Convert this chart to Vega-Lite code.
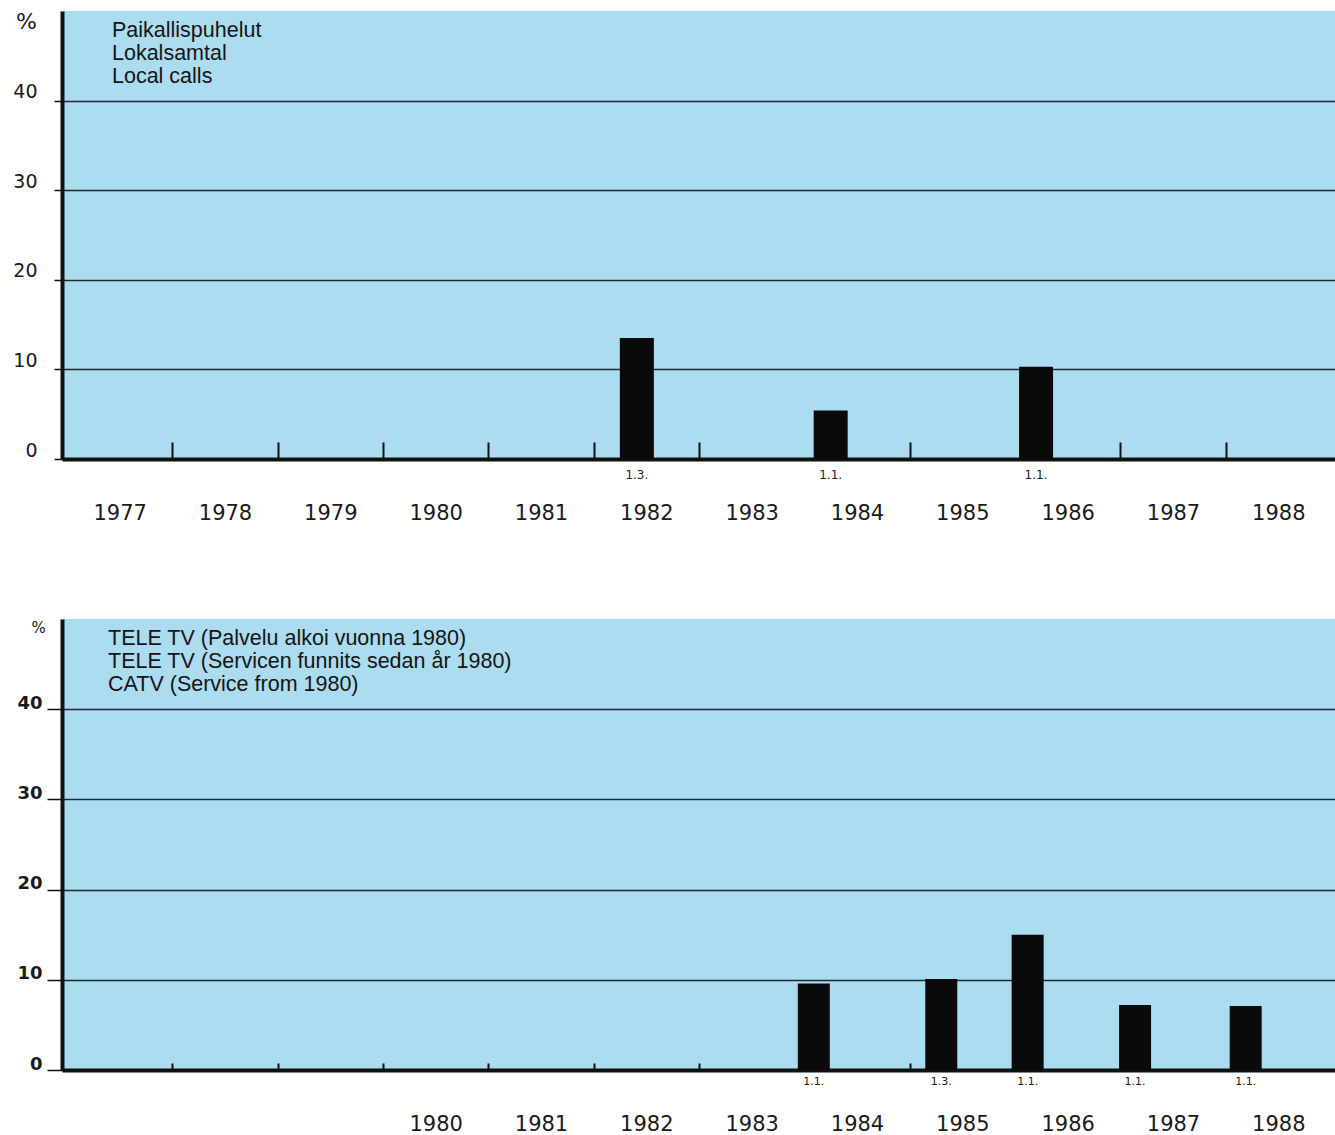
{
  "$schema": "https://vega.github.io/schema/vega-lite/v6.json",
  "padding": {"left": 0, "top": 10, "right": 0, "bottom": 0},
  "background": "white",
  "spacing": 85,
  "config": {
    "view": {"fill": "#abdcef", "stroke": null},
    "font": "Liberation Sans",
    "axis": {"domainColor": "#111111", "tickColor": "#111111", "labelColor": "#1a1a1a", "titleColor": "#1a1a1a", "gridColor": "#1d2b33", "labelFont": "DejaVu Sans", "titleFont": "DejaVu Sans"}
  },
  "datasets": {
    "local": [
      {"t": 1982.41, "pct": 13.5, "date": "1.3."},
      {"t": 1984.25, "pct": 5.4, "date": "1.1."},
      {"t": 1986.2, "pct": 10.3, "date": "1.1."}
    ],
    "catv": [
      {"t": 1984.09, "pct": 9.6, "date": "1.1."},
      {"t": 1985.3, "pct": 10.1, "date": "1.3."},
      {"t": 1986.12, "pct": 15.0, "date": "1.1."},
      {"t": 1987.14, "pct": 7.2, "date": "1.1."},
      {"t": 1988.19, "pct": 7.1, "date": "1.1."}
    ]
  },
  "vconcat": [
    {
      "width": 1274,
      "height": 448,
      "layer": [
        {
          "data": {"name": "local"},
          "mark": {"type": "bar", "orient": "vertical", "color": "#0a0a0a", "width": 34},
          "encoding": {
            "x": {"field": "t", "type": "quantitative",
              "scale": {"domain": [1977, 1989], "nice": false, "zero": false},
              "axis": {"title": null, "grid": false,
                "values": [1977.5, 1978, 1978.5, 1979, 1979.5, 1980, 1980.5, 1981, 1981.5, 1982, 1982.5, 1983, 1983.5, 1984.5, 1985, 1985.5, 1986.5, 1987, 1987.5, 1988, 1988.5],
                "labelExpr": "datum.value % 1 != 0 ? toString(floor(datum.value)) : ''",
                "tickOpacity": {"condition": {"test": "datum.value % 1 != 0", "value": 0}, "value": 1},
                "tickSize": -17, "tickWidth": 2, "domainWidth": 4,
                "labelPadding": 71, "labelFontSize": 21, "labelBaseline": "middle", "labelAngle": 0,
                "labelOverlap": false, "labelFlush": false,
                "minExtent": 75, "maxExtent": 75}},
            "y": {"field": "pct", "type": "quantitative",
              "scale": {"domain": [0, 50], "nice": false},
              "axis": {"values": [0, 10, 20, 30, 40], "grid": true, "gridWidth": 1.5,
                "domainWidth": 4, "tickSize": 8, "tickWidth": 1.5, "labelPadding": 17,
                "labelFontSize": 19, "labelBaseline": "alphabetic", "labelOffset": -3,
                "title": "%", "titleAngle": 0, "titleX": -36, "titleY": 10, "titleAlign": "center",
                "titleBaseline": "middle", "titleFontSize": 22, "titleFontWeight": "normal",
                "minExtent": 62, "maxExtent": 62}}
          }
        },
        {
          "data": {"name": "local"},
          "mark": {"type": "text", "fontSize": 12, "dy": 16, "baseline": "middle", "align": "center", "color": "#1a1a1a", "font": "DejaVu Sans"},
          "encoding": {
            "x": {"field": "t", "type": "quantitative"},
            "y": {"datum": 0, "type": "quantitative"},
            "text": {"field": "date"}
          }
        },
        {
          "data": {"values": [{}]},
          "mark": {"type": "text", "text": ["Paikallispuhelut", "Lokalsamtal", "Local calls"], "fontSize": 21.5, "lineHeight": 23, "align": "left", "baseline": "top", "dx": 45, "dy": 9, "color": "#151515"},
          "encoding": {
            "x": {"datum": 1977, "type": "quantitative"},
            "y": {"datum": 50, "type": "quantitative"}
          }
        }
      ]
    },
    {
      "width": 1274,
      "height": 451,
      "layer": [
        {
          "data": {"name": "catv"},
          "mark": {"type": "bar", "orient": "vertical", "color": "#0a0a0a", "width": 32},
          "encoding": {
            "x": {"field": "t", "type": "quantitative",
              "scale": {"domain": [1977, 1989], "nice": false, "zero": false},
              "axis": {"title": null, "grid": false,
                "values": [1978, 1979, 1980, 1980.5, 1981, 1981.5, 1982, 1982.5, 1983, 1983.5, 1984.5, 1985, 1985.5, 1986.5, 1987.5, 1988.5],
                "labelExpr": "datum.value % 1 != 0 ? toString(floor(datum.value)) : ''",
                "tickOpacity": {"condition": {"test": "datum.value % 1 != 0", "value": 0}, "value": 1},
                "tickSize": -7, "tickWidth": 2, "domainWidth": 4,
                "labelPadding": 61, "labelFontSize": 21, "labelBaseline": "middle", "labelAngle": 0,
                "labelOverlap": false, "labelFlush": false,
                "minExtent": 75, "maxExtent": 75}},
            "y": {"field": "pct", "type": "quantitative",
              "scale": {"domain": [0, 50], "nice": false},
              "axis": {"values": [0, 10, 20, 30, 40], "grid": true, "gridWidth": 1.5,
                "domainWidth": 4, "tickSize": 15, "tickWidth": 1.5, "labelPadding": 5,
                "labelFontSize": 18, "labelFontWeight": "bold", "labelBaseline": "alphabetic", "labelOffset": -1,
                "title": "%", "titleAngle": 0, "titleX": -24, "titleY": 8, "titleAlign": "center",
                "titleBaseline": "middle", "titleFontSize": 15, "titleFontWeight": "normal",
                "minExtent": 62, "maxExtent": 62}}
          }
        },
        {
          "data": {"name": "catv"},
          "mark": {"type": "text", "fontSize": 11, "dy": 12, "baseline": "middle", "align": "center", "color": "#1a1a1a", "font": "DejaVu Sans"},
          "encoding": {
            "x": {"field": "t", "type": "quantitative"},
            "y": {"datum": 0, "type": "quantitative"},
            "text": {"field": "date"}
          }
        },
        {
          "data": {"values": [{}]},
          "mark": {"type": "text", "text": ["TELE TV (Palvelu alkoi vuonna 1980)", "TELE TV (Servicen funnits sedan år 1980)", "CATV (Service from 1980)"], "fontSize": 21.5, "lineHeight": 23, "align": "left", "baseline": "top", "dx": 41, "dy": 9, "color": "#151515"},
          "encoding": {
            "x": {"datum": 1977, "type": "quantitative"},
            "y": {"datum": 50, "type": "quantitative"}
          }
        }
      ]
    }
  ]
}
